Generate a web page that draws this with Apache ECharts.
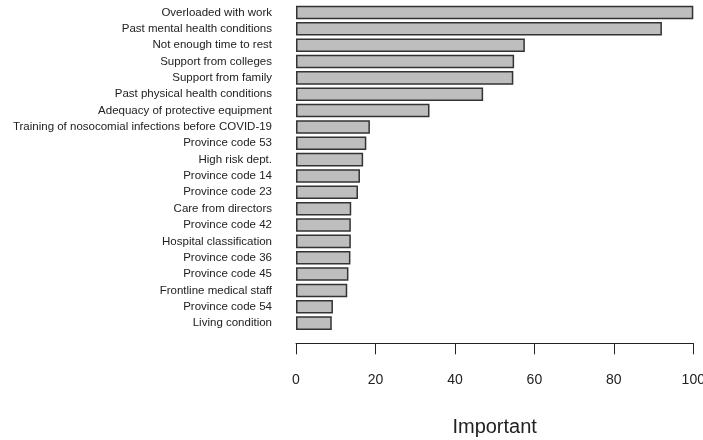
<!DOCTYPE html>
<html><head><meta charset="utf-8">
<script src="https://cdn.jsdelivr.net/npm/echarts@6/dist/echarts.min.js"></script>
<style>html,body{margin:0;padding:0;background:#fff}#c{width:703px;height:440px}</style>
</head><body><div id="c"></div>
<script>
const categories = ["Overloaded with work","Past mental health conditions","Not enough time to rest","Support from colleges","Support from family","Past physical health conditions","Adequacy of protective equipment","Training of nosocomial infections before COVID-19","Province code 53","High risk dept.","Province code 14","Province code 23","Care from directors","Province code 42","Hospital classification","Province code 36","Province code 45","Frontline medical staff","Province code 54","Living condition"];
const values = [100, 92.1, 57.6, 54.9, 54.7, 47.1, 33.6, 18.6, 17.7, 16.9, 16.1, 15.6, 13.9, 13.8, 13.8, 13.7, 13.2, 12.9, 9.3, 9.0];
const xTicks = [0, 20, 40, 60, 80, 100];
const xTitle = "Important";

const chart = echarts.init(document.getElementById('c'));
chart.setOption({
  animation: false,
  textStyle: {fontFamily: 'Liberation Sans, Arial, sans-serif'},
  grid: {left: 296, right: 9.7, top: 4.3, height: 327, containLabel: false, outerBoundsMode: 'none'},
  xAxis: {
    type: 'value', min: xTicks[0], max: xTicks[xTicks.length-1], interval: 20,
    offset: 12,
    splitLine: {show: false},
    axisLine: {show: true, lineStyle: {color: '#222', width: 1}},
    axisTick: {show: true, length: 11, lineStyle: {color: '#222', width: 1}},
    axisLabel: {margin: 30, fontSize: 14, color: '#222', showMaxLabel: true, showMinLabel: true},
    name: xTitle, nameLocation: 'middle', nameGap: 74,
    nameTextStyle: {fontSize: 20, color: '#222'}
  },
  yAxis: {
    type: 'category', data: categories, inverse: true,
    axisLine: {show: false}, axisTick: {show: false},
    axisLabel: {margin: 24, fontSize: 11.5, color: '#222', interval: 0}
  },
  series: [{
    type: 'bar', data: values, barCategoryGap: '17%',
    itemStyle: {color: '#bebebe', borderColor: '#333', borderWidth: 1.5}
  }]
});
</script></body></html>
